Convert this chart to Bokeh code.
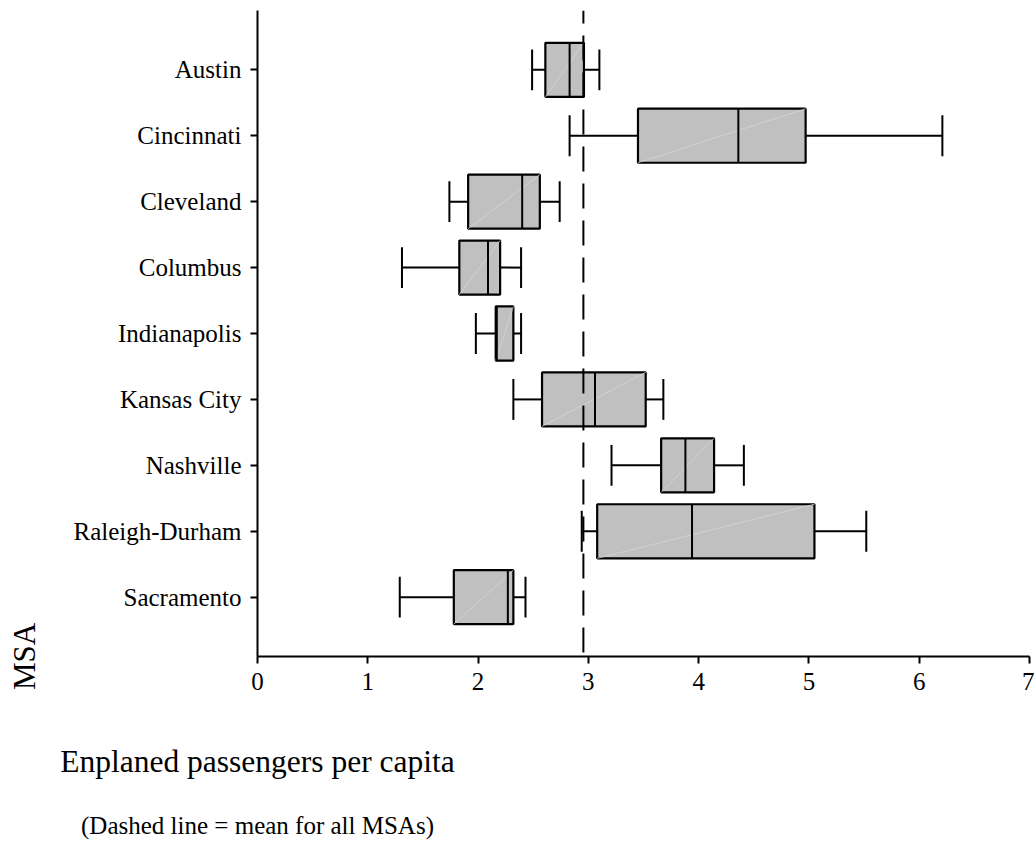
from bokeh.plotting import figure
from bokeh.models import FactorRange, Range1d, Span, FixedTicker, ColumnDataSource, LinearAxis
from bokeh.embed import file_html
from bokeh.resources import INLINE

# ---- data ----
msa = ["Austin", "Cincinnati", "Cleveland", "Columbus", "Indianapolis",
       "Kansas City", "Nashville", "Raleigh-Durham", "Sacramento"]
lower = [2.49, 2.83, 1.74, 1.31, 1.98, 2.32, 3.21, 2.94, 1.29]
q1 = [2.61, 3.45, 1.91, 1.83, 2.16, 2.58, 3.66, 3.08, 1.78]
median = [2.83, 4.36, 2.40, 2.09, 2.17, 3.06, 3.88, 3.94, 2.27]
q3 = [2.96, 4.97, 2.56, 2.20, 2.32, 3.52, 4.14, 5.05, 2.32]
upper = [3.10, 6.21, 2.74, 2.39, 2.39, 3.68, 4.41, 5.52, 2.43]
mean_all = 2.955
x_ticks = [0, 1, 2, 3, 4, 5, 6, 7]

FONT = "Liberation Serif"

src = ColumnDataSource(dict(
    msa=msa, lower=lower, q1=q1, median=median, q3=q3, upper=upper,
    box_bot=[(m, -0.41) for m in msa], box_top=[(m, 0.41) for m in msa],
    cap_bot=[(m, -0.31) for m in msa], cap_top=[(m, 0.31) for m in msa],
))

p = figure(width=1034, height=844,
           y_range=FactorRange(factors=list(reversed(msa)), range_padding=0.8 / 9),
           x_range=Range1d(0, 7),
           output_backend="svg", toolbar_location=None,
           min_border_left=257, min_border_right=5, min_border_top=10,
           min_border_bottom=188)

p.grid.visible = False
p.outline_line_color = None
p.background_fill_color = "white"
p.border_fill_color = "white"

# whiskers
p.segment(x0="lower", y0="msa", x1="q1", y1="msa", source=src, line_color="black", line_width=2)
p.segment(x0="q3", y0="msa", x1="upper", y1="msa", source=src, line_color="black", line_width=2)
p.segment(x0="lower", y0="cap_bot", x1="lower", y1="cap_top", source=src, line_color="black", line_width=2)
p.segment(x0="upper", y0="cap_bot", x1="upper", y1="cap_top", source=src, line_color="black", line_width=2)

# boxes
p.hbar(y="msa", left="q1", right="q3", height=0.82, source=src,
       fill_color="#c0c0c0", line_color="black", line_width=2.2)
# faint diagonal artefact inside each box
p.segment(x0="q1", y0="box_bot", x1="q3", y1="box_top", source=src,
          line_color="#d6d6d6", line_width=0.8)
# medians
p.segment(x0="median", y0="box_bot", x1="median", y1="box_top", source=src,
          line_color="black", line_width=2)

# mean line
p.add_layout(Span(location=mean_all, dimension="height", line_color="black",
                  line_width=2, line_dash="25 12", line_dash_offset=12))

# main axes
for ax in (p.xaxis[0], p.yaxis[0]):
    ax.axis_line_width = 2
    ax.axis_line_color = "black"
    ax.major_tick_line_width = 2
    ax.major_tick_line_color = "black"
    ax.major_tick_out = 7
    ax.major_tick_in = 0
    ax.minor_tick_line_color = None
    ax.major_label_text_font = FONT
    ax.major_label_text_font_size = "25px"
    ax.major_label_text_color = "black"
    ax.major_label_standoff = 9

p.xaxis.ticker = FixedTicker(ticks=x_ticks)

p.yaxis.axis_label = "MSA"
p.yaxis.axis_label_text_font = FONT
p.yaxis.axis_label_text_font_size = "31px"
p.yaxis.axis_label_text_font_style = "normal"
p.yaxis.axis_label_text_color = "black"
p.yaxis.axis_label_align = "start"
p.yaxis.axis_label_standoff = 28


def label_axis(text, size, standoff, centre):
    """An axis that draws nothing but its label; the label is centred on the
    start of the axis bounds, i.e. at half the text width from x = 0."""
    return LinearAxis(ticker=FixedTicker(ticks=[]), bounds=(centre, 7.0),
                      axis_label=text, axis_label_text_font=FONT,
                      axis_label_text_font_size=size,
                      axis_label_text_font_style="normal",
                      axis_label_text_color="black",
                      axis_label_align="start", axis_label_standoff=standoff,
                      axis_line_color=None, major_tick_line_color=None,
                      minor_tick_line_color=None, major_tick_out=0, major_tick_in=0,
                      major_label_text_alpha=0)


# half text widths in data units (px / 110.3 px per unit)
p.add_layout(label_axis("Enplaned passengers per capita", "31.5px", 51, 1.79), "below")
p.add_layout(label_axis("(Dashed line = mean for all MSAs)", "25px", 30, 1.60), "below")

open("out.html", "w").write(file_html(p, INLINE))
